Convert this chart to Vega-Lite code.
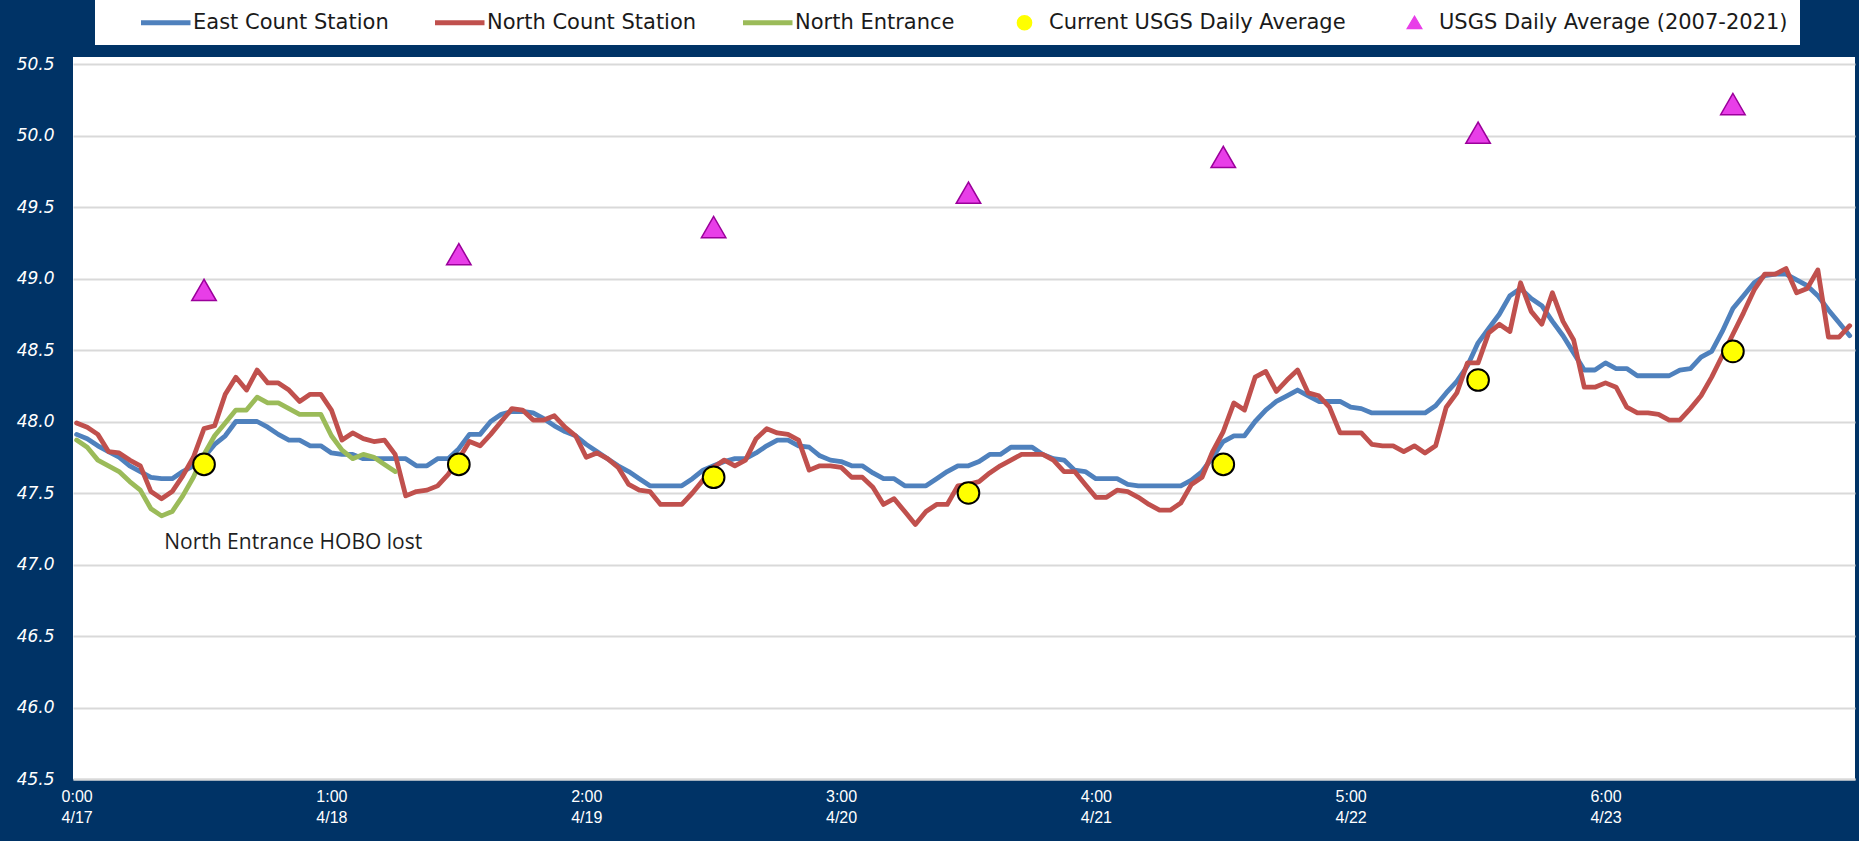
{
  "$schema": "https://vega.github.io/schema/vega-lite/v6.json",
  "width": 1782,
  "height": 722,
  "autosize": {"type": "none"},
  "padding": {"left": 73, "top": 57, "right": 4, "bottom": 62},
  "background": "#003366",
  "config": {"view": {"fill": "white", "stroke": null}},
  "encoding": {
    "x": {
      "field": "h", "type": "quantitative",
      "scale": {"domain": [-0.34, 167.5], "nice": false, "zero": false},
      "axis": {
        "values": [0, 24, 48, 72, 96, 120, 144],
        "labelExpr": "[(datum.value/24) + ':00', '4/' + (17 + datum.value/24)]",
        "title": null, "grid": false, "ticks": false,
        "domainColor": "#d9d9d9", "domainWidth": 2,
        "labelColor": "white", "labelFont": "Liberation Sans", "labelFontSize": 16,
        "labelLineHeight": 21, "labelPadding": 9, "labelFlush": false, "labelOverlap": false
      }
    },
    "y": {
      "field": "temp", "type": "quantitative",
      "scale": {"domain": [45.5, 50.549], "nice": false, "zero": false},
      "axis": {
        "values": [45.5, 46, 46.5, 47, 47.5, 48, 48.5, 49, 49.5, 50, 50.5],
        "format": ".1f", "title": null, "grid": true, "gridColor": "#d9d9d9", "gridWidth": 2,
        "domain": false, "ticks": false,
        "labelColor": "white", "labelFont": "DejaVu Sans", "labelFontStyle": "italic",
        "labelFontSize": 17, "labelPadding": 19
      }
    }
  },
  "layer": [
    {
      "data": {"values": [
        {"h":0,"E":47.91,"N":47.99,"G":47.87},{"h":1,"E":47.88,"N":47.96,"G":47.82},{"h":2,"E":47.83,"N":47.91,"G":47.73},{"h":3,"E":47.79,"N":47.79,"G":47.69},
        {"h":4,"E":47.75,"N":47.78,"G":47.65},{"h":5,"E":47.69,"N":47.73,"G":47.58},{"h":6,"E":47.65,"N":47.69,"G":47.52},{"h":7,"E":47.61,"N":47.51,"G":47.39},
        {"h":8,"E":47.60,"N":47.46,"G":47.34},{"h":9,"E":47.60,"N":47.51,"G":47.37},{"h":10,"E":47.65,"N":47.62,"G":47.48},{"h":11,"E":47.69,"N":47.75,"G":47.61},
        {"h":12,"E":47.75,"N":47.95,"G":47.77},{"h":13,"E":47.84,"N":47.97,"G":47.90},{"h":14,"E":47.90,"N":48.19,"G":47.99},{"h":15,"E":48.00,"N":48.31,"G":48.08},
        {"h":16,"E":48.00,"N":48.22,"G":48.08},{"h":17,"E":48.00,"N":48.36,"G":48.17},{"h":18,"E":47.96,"N":48.27,"G":48.13},{"h":19,"E":47.91,"N":48.27,"G":48.13},
        {"h":20,"E":47.87,"N":48.22,"G":48.09},{"h":21,"E":47.87,"N":48.14,"G":48.05},{"h":22,"E":47.83,"N":48.19,"G":48.05},{"h":23,"E":47.83,"N":48.19,"G":48.05},
        {"h":24,"E":47.78,"N":48.08,"G":47.90},{"h":25,"E":47.77,"N":47.87,"G":47.80},{"h":26,"E":47.77,"N":47.92,"G":47.74},{"h":27,"E":47.74,"N":47.88,"G":47.77},
        {"h":28,"E":47.74,"N":47.86,"G":47.75},{"h":29,"E":47.74,"N":47.87,"G":47.70},{"h":30,"E":47.74,"N":47.77,"G":47.65},{"h":31,"E":47.74,"N":47.48},
        {"h":32,"E":47.69,"N":47.51},{"h":33,"E":47.69,"N":47.52},{"h":34,"E":47.74,"N":47.55},{"h":35,"E":47.74,"N":47.63},
        {"h":36,"E":47.81,"N":47.74},{"h":37,"E":47.91,"N":47.86},{"h":38,"E":47.91,"N":47.83},{"h":39,"E":48.00,"N":47.91},
        {"h":40,"E":48.05,"N":48.00},{"h":41,"E":48.07,"N":48.09},{"h":42,"E":48.07,"N":48.08},{"h":43,"E":48.06,"N":48.01},
        {"h":44,"E":48.02,"N":48.01},{"h":45,"E":47.97,"N":48.04},{"h":46,"E":47.93,"N":47.96},{"h":47,"E":47.90,"N":47.90},
        {"h":48,"E":47.84,"N":47.75},{"h":49,"E":47.79,"N":47.78},{"h":50,"E":47.74,"N":47.74},{"h":51,"E":47.69,"N":47.68},
        {"h":52,"E":47.65,"N":47.56},{"h":53,"E":47.60,"N":47.52},{"h":54,"E":47.55,"N":47.51},{"h":55,"E":47.55,"N":47.42},
        {"h":56,"E":47.55,"N":47.42},{"h":57,"E":47.55,"N":47.42},{"h":58,"E":47.60,"N":47.50},{"h":59,"E":47.66,"N":47.59},
        {"h":60,"E":47.69,"N":47.68},{"h":61,"E":47.72,"N":47.73},{"h":62,"E":47.74,"N":47.69},{"h":63,"E":47.74,"N":47.73},
        {"h":64,"E":47.78,"N":47.88},{"h":65,"E":47.83,"N":47.95},{"h":66,"E":47.87,"N":47.92},{"h":67,"E":47.87,"N":47.91},
        {"h":68,"E":47.83,"N":47.87},{"h":69,"E":47.82,"N":47.66},{"h":70,"E":47.76,"N":47.69},{"h":71,"E":47.73,"N":47.69},
        {"h":72,"E":47.72,"N":47.68},{"h":73,"E":47.69,"N":47.61},{"h":74,"E":47.69,"N":47.61},{"h":75,"E":47.64,"N":47.54},
        {"h":76,"E":47.60,"N":47.42},{"h":77,"E":47.60,"N":47.46},{"h":78,"E":47.55,"N":47.37},{"h":79,"E":47.55,"N":47.28},
        {"h":80,"E":47.55,"N":47.37},{"h":81,"E":47.60,"N":47.42},{"h":82,"E":47.65,"N":47.42},{"h":83,"E":47.69,"N":47.55},
        {"h":84,"E":47.69,"N":47.56},{"h":85,"E":47.72,"N":47.58},{"h":86,"E":47.77,"N":47.64},{"h":87,"E":47.77,"N":47.69},
        {"h":88,"E":47.82,"N":47.73},{"h":89,"E":47.82,"N":47.77},{"h":90,"E":47.82,"N":47.77},{"h":91,"E":47.77,"N":47.77},
        {"h":92,"E":47.74,"N":47.73},{"h":93,"E":47.73,"N":47.65},{"h":94,"E":47.66,"N":47.65},{"h":95,"E":47.65,"N":47.56},
        {"h":96,"E":47.60,"N":47.47},{"h":97,"E":47.60,"N":47.47},{"h":98,"E":47.60,"N":47.52},{"h":99,"E":47.56,"N":47.51},
        {"h":100,"E":47.55,"N":47.47},{"h":101,"E":47.55,"N":47.42},{"h":102,"E":47.55,"N":47.38},{"h":103,"E":47.55,"N":47.38},
        {"h":104,"E":47.55,"N":47.43},{"h":105,"E":47.59,"N":47.56},{"h":106,"E":47.65,"N":47.61},{"h":107,"E":47.75,"N":47.79},
        {"h":108,"E":47.86,"N":47.93},{"h":109,"E":47.90,"N":48.13},{"h":110,"E":47.90,"N":48.08},{"h":111,"E":48.00,"N":48.31},
        {"h":112,"E":48.08,"N":48.35},{"h":113,"E":48.14,"N":48.21},{"h":114,"E":48.18,"N":48.29},{"h":115,"E":48.22,"N":48.36},
        {"h":116,"E":48.18,"N":48.20},{"h":117,"E":48.14,"N":48.18},{"h":118,"E":48.14,"N":48.10},{"h":119,"E":48.14,"N":47.92},
        {"h":120,"E":48.10,"N":47.92},{"h":121,"E":48.09,"N":47.92},{"h":122,"E":48.06,"N":47.84},{"h":123,"E":48.06,"N":47.83},
        {"h":124,"E":48.06,"N":47.83},{"h":125,"E":48.06,"N":47.79},{"h":126,"E":48.06,"N":47.83},{"h":127,"E":48.06,"N":47.78},
        {"h":128,"E":48.11,"N":47.83},{"h":129,"E":48.20,"N":48.10},{"h":130,"E":48.28,"N":48.20},{"h":131,"E":48.39,"N":48.41},
        {"h":132,"E":48.55,"N":48.41},{"h":133,"E":48.65,"N":48.62},{"h":134,"E":48.75,"N":48.68},{"h":135,"E":48.88,"N":48.63},
        {"h":136,"E":48.93,"N":48.97},{"h":137,"E":48.86,"N":48.77},{"h":138,"E":48.81,"N":48.68},{"h":139,"E":48.70,"N":48.90},
        {"h":140,"E":48.60,"N":48.70},{"h":141,"E":48.48,"N":48.57},{"h":142,"E":48.36,"N":48.24},{"h":143,"E":48.36,"N":48.24},
        {"h":144,"E":48.41,"N":48.27},{"h":145,"E":48.37,"N":48.24},{"h":146,"E":48.37,"N":48.10},{"h":147,"E":48.32,"N":48.06},
        {"h":148,"E":48.32,"N":48.06},{"h":149,"E":48.32,"N":48.05},{"h":150,"E":48.32,"N":48.01},{"h":151,"E":48.36,"N":48.01},
        {"h":152,"E":48.37,"N":48.09},{"h":153,"E":48.45,"N":48.18},{"h":154,"E":48.49,"N":48.31},{"h":155,"E":48.63,"N":48.46},
        {"h":156,"E":48.79,"N":48.61},{"h":157,"E":48.88,"N":48.76},{"h":158,"E":48.97,"N":48.92},{"h":159,"E":49.02,"N":49.03},
        {"h":160,"E":49.03,"N":49.03},{"h":161,"E":49.03,"N":49.07},{"h":162,"E":48.99,"N":48.90},{"h":163,"E":48.95,"N":48.93},
        {"h":164,"E":48.88,"N":49.06},{"h":165,"E":48.78,"N":48.59},{"h":166,"E":48.69,"N":48.59},{"h":167,"E":48.60,"N":48.67}
      ]},
      "transform": [
        {"fold": ["E", "N", "G"], "as": ["series", "temp"]},
        {"filter": "isValid(datum.temp)"}
      ],
      "mark": {"type": "line", "strokeWidth": 4.8, "strokeJoin": "round", "strokeCap": "round"},
      "encoding": {
        "color": {
          "field": "series", "type": "nominal",
          "scale": {"domain": ["E", "N", "G", "C", "H"], "range": ["#4f81bd", "#c0504d", "#9bbb59", "#ffff00", "#e83ee8"]},
          "legend": {
            "orient": "none", "legendX": 22, "legendY": -57, "direction": "horizontal",
            "title": "\u00a0", "titleOrient": "left", "titlePadding": 51, "titleFontSize": 22,
            "fillColor": "white", "padding": 12,
            "labelFont": "DejaVu Sans", "labelFontSize": 21, "labelColor": "#1a1a1a",
            "labelOffset": 14, "columnPadding": 36, "symbolSize": 484, "labelLimit": 0,
            "labelExpr": "datum.value == 'E' ? 'East Count Station' : datum.value == 'N' ? 'North Count Station' : datum.value == 'G' ? 'North Entrance' : datum.value == 'C' ? 'Current USGS Daily Average' : 'USGS Daily Average (2007-2021)'",
            "encode": {
              "symbols": {
                "update": {
                  "shape": {"signal": "datum.value == 'C' ? 'M-4.2,0M1,0A1,1,0,1,1,-1,0A1,1,0,1,1,1,0Z' : datum.value == 'H' ? 'M-4,0M0,-0.9L1,0.8L-1,0.8Z' : 'M-2.5,0H2'"},
                  "size": {"signal": "datum.value == 'C' ? 200 : datum.value == 'H' ? 220 : 484"},
                  "strokeWidth": {"signal": "datum.value == 'C' ? 1.5 : datum.value == 'H' ? 1.2 : 5"},
                  "fill": {"signal": "datum.value == 'C' ? '#ffff00' : datum.value == 'H' ? '#e83ee8' : 'transparent'"},
                  "stroke": {"signal": "datum.value == 'E' ? '#4f81bd' : datum.value == 'N' ? '#c0504d' : datum.value == 'G' ? '#9bbb59' : datum.value == 'C' ? '#000000' : '#9b009b'"},
                  "opacity": {"value": 1}
                }
              }
            }
          }
        }
      }
    },
    {
      "data": {"values": [
        {"series":"C","h":12,"temp":47.70},{"series":"C","h":36,"temp":47.70},{"series":"C","h":60,"temp":47.61},
        {"series":"C","h":84,"temp":47.50},{"series":"C","h":108,"temp":47.70},{"series":"C","h":132,"temp":48.29},
        {"series":"C","h":156,"temp":48.49},
        {"series":"H","h":12,"temp":48.92},{"series":"H","h":36,"temp":49.17},{"series":"H","h":60,"temp":49.36},
        {"series":"H","h":84,"temp":49.60},{"series":"H","h":108,"temp":49.85},{"series":"H","h":132,"temp":50.02},
        {"series":"H","h":156,"temp":50.22}
      ]},
      "mark": {"type": "point", "filled": true, "opacity": 1},
      "encoding": {
        "color": {"field": "series", "type": "nominal"},
        "stroke": {"field": "series", "type": "nominal", "scale": {"domain": ["C", "H"], "range": ["#000000", "#9b009b"]}, "legend": null},
        "shape": {"field": "series", "type": "nominal", "scale": {"domain": ["C", "H"], "range": ["circle", "triangle-up"]}, "legend": null},
        "size": {"field": "series", "type": "nominal", "scale": {"domain": ["C", "H"], "range": [470, 600]}, "legend": null},
        "strokeWidth": {"field": "series", "type": "nominal", "scale": {"domain": ["C", "H"], "range": [2, 1.5]}, "legend": null}
      }
    },
    {
      "data": {"values": [{"h": 20.4, "temp": 47.15, "label": "North Entrance HOBO lost"}]},
      "mark": {"type": "text", "font": "Open Sans", "fontSize": 21, "color": "#1f1f1f", "align": "center", "baseline": "middle"},
      "encoding": {"text": {"field": "label"}}
    }
  ]
}
